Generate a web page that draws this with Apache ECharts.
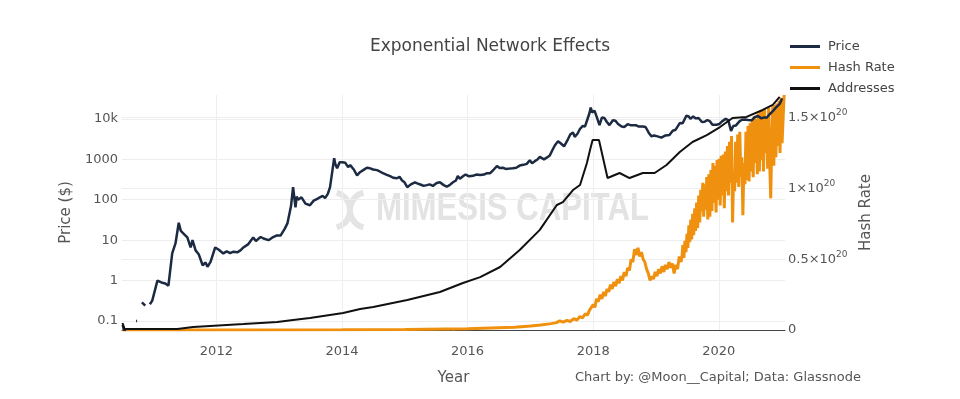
<!DOCTYPE html>
<html>
<head>
<meta charset="utf-8">
<script src="https://cdn.jsdelivr.net/npm/echarts@6/dist/echarts.min.js"></script>
<style>
  html, body { margin: 0; padding: 0; background: #fff; }
  #chart { width: 960px; height: 399px; }
</style>
</head>
<body>
<div id="chart"></div>
<script>
// values
const priceDates = ['2010-07-05','2010-07-12','2010-07-25','2010-08-20','2010-09-21','2010-09-27','2010-10-10','2010-10-25','2010-11-13','2010-11-25','2010-12-10','2010-12-24','2011-01-23','2011-02-15','2011-03-10','2011-03-28','2011-04-19','2011-05-08','2011-05-27','2011-06-08','2011-06-18','2011-06-28','2011-07-16','2011-07-25','2011-08-04','2011-08-15','2011-09-02','2011-09-20','2011-10-13','2011-10-30','2011-11-10','2011-11-28','2011-12-25','2012-01-15','2012-02-10','2012-03-01','2012-03-21','2012-04-10','2012-05-01','2012-05-20','2012-06-06','2012-07-05','2012-08-02','2012-08-18','2012-09-01','2012-09-15','2012-10-01','2012-10-30','2012-11-20','2012-12-15','2013-01-08','2013-02-01','2013-02-17','2013-03-10','2013-03-22','2013-04-05','2013-04-12','2013-04-20','2013-05-10','2013-06-02','2013-06-28','2013-07-20','2013-08-10','2013-08-25','2013-09-10','2013-09-24','2013-10-10','2013-10-23','2013-11-16','2013-11-22','2013-12-03','2013-12-18','2014-01-01','2014-01-20','2014-02-05','2014-02-17','2014-03-10','2014-03-29','2014-04-15','2014-05-04','2014-05-25','2014-06-13','2014-07-01','2014-07-23','2014-08-08','2014-08-26','2014-09-15','2014-10-07','2014-10-25','2014-11-17','2014-12-01','2014-12-16','2014-12-30','2015-01-15','2015-02-05','2015-03-01','2015-03-14','2015-04-05','2015-04-20','2015-05-09','2015-05-25','2015-06-13','2015-07-05','2015-07-24','2015-08-15','2015-09-02','2015-09-18','2015-10-08','2015-10-25','2015-11-05','2015-11-17','2015-12-05','2015-12-20','2016-01-10','2016-02-01','2016-02-20','2016-03-14','2016-04-05','2016-04-23','2016-05-10','2016-06-01','2016-06-20','2016-07-05','2016-07-24','2016-08-10','2016-09-02','2016-09-20','2016-10-10','2016-10-30','2016-11-20','2016-12-10','2016-12-28','2017-01-10','2017-01-26','2017-02-10','2017-02-24','2017-03-20','2017-04-05','2017-04-23','2017-05-10','2017-05-22','2017-06-10','2017-06-25','2017-07-15','2017-08-01','2017-08-20','2017-09-05','2017-09-15','2017-10-01','2017-10-16','2017-11-01','2017-11-14','2017-11-28','2017-12-10','2017-12-17','2017-12-25','2018-01-08','2018-01-20','2018-02-06','2018-02-20','2018-03-07','2018-03-20','2018-04-05','2018-04-25','2018-05-10','2018-05-25','2018-06-15','2018-06-30','2018-07-20','2018-08-05','2018-08-15','2018-09-05','2018-09-20','2018-10-16','2018-11-01','2018-11-20','2018-12-06','2018-12-20','2019-01-10','2019-02-01','2019-02-25','2019-03-20','2019-04-08','2019-04-25','2019-05-19','2019-06-05','2019-06-26','2019-07-10','2019-07-20','2019-08-05','2019-08-20','2019-09-05','2019-09-25','2019-10-10','2019-10-26','2019-11-10','2019-11-25','2019-12-18','2020-01-05','2020-01-20','2020-02-10','2020-02-25','2020-03-12','2020-03-25','2020-04-10','2020-04-30','2020-05-15','2020-06-01','2020-06-20','2020-07-10','2020-07-28','2020-08-15','2020-09-05','2020-09-20','2020-10-05','2020-10-22','2020-11-10','2020-11-25','2020-12-05','2020-12-20','2021-01-03'];
const priceValues = [0.08,0.06,0.06,null,0.1,0.1,null,0.29,0.24,null,0.26,0.32,1.0,0.9,0.85,0.75,4.7,8.3,27,17,18,14,11.7,13,6.6,10,5.6,4.5,2.4,2.8,2.2,2.9,6.6,5.8,4.7,5.3,4.8,5.2,5.0,5.6,6.6,8,11.7,9.5,10.8,12,11,10,11.5,13,13,19,26,70,205,65,120,100,115,80,73,95,105,115,125,110,140,205,1070,780,600,850,850,820,640,720,560,400,480,540,620,600,560,540,500,455,420,385,350,340,370,300,270,205,240,270,255,235,220,230,240,220,260,270,230,210,230,270,300,390,330,380,420,380,390,420,410,420,455,450,560,680,610,620,580,590,600,620,700,730,770,950,800,900,990,1150,1000,1100,1250,1750,2200,2800,2500,2100,2800,4100,4600,3600,4300,5700,6700,6500,9800,14000,19000,14500,16000,11500,7000,10800,10500,8500,7000,9300,9000,7500,6500,6300,7400,7000,6300,7000,6500,6500,6300,4500,3700,3900,3700,3450,3900,4000,5100,5400,7900,7800,12000,11500,10000,11500,10300,10500,8400,8500,9300,8800,7200,7200,7500,8700,10000,9300,5000,6700,6900,8700,9500,9700,9400,9200,11000,11800,10300,10900,10700,12900,15500,18500,19000,23500,32000];

// hash rate in units of 1e18 H/s
const hashDates = ['2010-07-04','2012-01-01','2014-01-01','2015-01-01','2016-01-01','2016-04-01','2016-07-01','2016-10-01','2017-01-01','2017-03-01','2017-05-01','2017-06-01','2017-06-20','2017-07-10','2017-08-01','2017-08-20','2017-09-10','2017-09-28','2017-10-15','2017-10-30','2017-11-15','2017-11-28','2017-12-10','2017-12-20','2018-01-01','2018-01-10','2018-01-20','2018-01-30','2018-02-10','2018-02-20','2018-03-02','2018-03-12','2018-03-22','2018-04-01','2018-04-11','2018-04-21','2018-05-01','2018-05-11','2018-05-21','2018-05-31','2018-06-10','2018-06-20','2018-06-30','2018-07-10','2018-07-20','2018-07-30','2018-08-09','2018-08-19','2018-08-29','2018-09-08','2018-09-18','2018-09-28','2018-10-08','2018-10-18','2018-10-28','2018-11-07','2018-11-17','2018-11-27','2018-12-07','2018-12-17','2018-12-27','2019-01-06','2019-01-16','2019-01-26','2019-02-05','2019-02-15','2019-02-25','2019-03-07','2019-03-17','2019-03-27','2019-04-06','2019-04-16','2019-04-26','2019-05-06','2019-05-16','2019-05-26','2019-06-01','2019-06-06','2019-06-12','2019-06-18','2019-06-24','2019-06-30','2019-07-05','2019-07-11','2019-07-16','2019-07-22','2019-07-27','2019-08-02','2019-08-08','2019-08-14','2019-08-19','2019-08-25','2019-08-31','2019-09-06','2019-09-12','2019-09-18','2019-09-24','2019-09-30','2019-10-05','2019-10-11','2019-10-17','2019-10-23','2019-10-29','2019-11-04','2019-11-10','2019-11-16','2019-11-22','2019-11-28','2019-12-04','2019-12-10','2019-12-16','2019-12-22','2019-12-28','2020-01-03','2020-01-09','2020-01-15','2020-01-21','2020-01-27','2020-02-02','2020-02-08','2020-02-14','2020-02-20','2020-02-26','2020-03-03','2020-03-09','2020-03-15','2020-03-21','2020-03-27','2020-04-02','2020-04-08','2020-04-14','2020-04-20','2020-04-26','2020-05-02','2020-05-08','2020-05-14','2020-05-20','2020-05-26','2020-06-01','2020-06-07','2020-06-13','2020-06-19','2020-06-25','2020-07-01','2020-07-07','2020-07-13','2020-07-19','2020-07-25','2020-07-31','2020-08-06','2020-08-12','2020-08-18','2020-08-24','2020-08-30','2020-09-05','2020-09-11','2020-09-17','2020-09-23','2020-09-29','2020-10-05','2020-10-11','2020-10-17','2020-10-23','2020-10-29','2020-11-04','2020-11-10','2020-11-16','2020-11-22','2020-11-28','2020-12-04','2020-12-10','2020-12-16','2020-12-22','2020-12-28','2021-01-03','2021-01-09','2021-01-15'];
const hashValues = [0,0.02,0.1,0.3,0.8,1.2,1.6,2.0,2.8,3.6,4.5,5.2,6.5,5.5,6.8,6.0,8.0,7.0,9.5,8.5,11.5,10.5,14,13,18,16,22,20,25,22,27,24,29,27,32,29,34,31,36,33,38,35,41,38,44,42,50,48,57,53,58,52,55,50,48,43,40,35,38,36,41,38,43,40,45,41,46,43,48,44,47,40,46,43,52,48,52,60,51,63,55,68,58,74,62,78,64,82,67,86,70,90,72,95,76,99,84,104,80,103,85,108,78,110,80,113,84,118,90,116,83,120,92,121,88,123,95,124,86,126,98,130,95,133,104,137,76,110,98,133,104,138,101,140,108,122,81,118,103,140,106,144,105,146,112,148,108,151,118,149,110,153,112,154,120,155,112,156,125,150,114,157,118,93,135,158,116,159,122,160,130,162,125,164,132,150,166];

// active addresses, thousands
const addrDates = ['2010-07-04','2010-07-16','2011-05-19','2011-08-19','2011-11-25','2012-06-06','2012-12-20','2013-03-22','2013-06-28','2014-01-07','2014-04-16','2014-07-01','2015-01-15','2015-07-24','2015-12-05','2016-03-14','2016-07-08','2016-10-30','2017-02-24','2017-06-03','2017-07-08','2017-09-05','2017-10-16','2017-11-25','2017-12-13','2017-12-28','2018-02-03','2018-03-25','2018-06-03','2018-07-31','2018-10-16','2018-12-24','2019-03-03','2019-05-19','2019-08-01','2019-10-23','2020-01-08','2020-03-21','2020-06-10','2020-09-12','2020-11-10','2020-12-20'];
const addrValues = [40,6,6,17,23,34,46,57,69,98,121,132,172,218,270,304,362,460,575,718,735,804,833,959,1034,1092,1092,873,902,873,902,902,948,1023,1080,1120,1166,1218,1224,1264,1293,1339];

const yearTicks = [2012, 2014, 2016, 2018, 2020];

const toTs = s => { const p = s.split('-').map(Number); return new Date(p[0], p[1] - 1, p[2]).getTime(); };
const zip = (a, b) => a.map((d, i) => [toTs(d), b[i]]);
const yearTs = yearTicks.map(y => new Date(y, 0, 1).getTime());

const FONT = 'DejaVu Sans';
const chart = echarts.init(document.getElementById('chart'));
chart.setOption({
  animation: false,
  textStyle: { fontFamily: FONT },
  title: {
    text: 'Exponential Network Effects',
    left: 485, top: 33, textAlign: 'center',
    textStyle: { fontFamily: FONT, fontSize: 17, fontWeight: 'normal', color: '#444' }
  },
  legend: {
    orient: 'vertical', left: 790, top: 40, padding: 0,
    icon: 'rect', itemWidth: 30, itemHeight: 3, itemGap: 8,
    textStyle: { fontFamily: FONT, fontSize: 13, color: '#444', padding: [0, 0, 0, 3] },
    data: ['Price', 'Hash Rate', 'Addresses']
  },
  grid: { left: 122, right: 175, top: 95, bottom: 69 },
  graphic: [
    { type: 'arc', shape: { cx: 332, cy: 210, r: 18, startAngle: -Math.PI / 2.4, endAngle: Math.PI / 2.4 },
      style: { stroke: '#e4e4e4', lineWidth: 6, fill: null }, z: 0 },
    { type: 'arc', shape: { cx: 368, cy: 210, r: 18, startAngle: Math.PI - Math.PI / 2.4, endAngle: Math.PI + Math.PI / 2.4 },
      style: { stroke: '#e4e4e4', lineWidth: 6, fill: null }, z: 0 },
    { type: 'text', left: 376, top: 191, scaleX: 0.82, z: 0,
      style: { text: 'MIMESIS CAPITAL', fill: '#e3e3e3', font: 'bold 38px "Liberation Sans"' } },
    { type: 'text', right: 99, top: 371,
      style: { text: 'Chart by: @Moon__Capital; Data: Glassnode', fill: '#555', font: '13px "DejaVu Sans"' } }
  ],
  xAxis: {
    type: 'value',
    min: toTs('2010-07-01'), max: toTs('2021-01-20'),
    name: 'Year', nameLocation: 'middle', nameGap: 41,
    nameTextStyle: { fontFamily: FONT, fontSize: 15, color: '#555' },
    axisLine: { show: true, lineStyle: { color: '#444', width: 1 } },
    axisTick: { show: false, customValues: yearTs },
    axisLabel: {
      customValues: yearTs, margin: 15,
      fontFamily: FONT, fontSize: 13, color: '#555',
      formatter: v => String(new Date(v).getFullYear())
    },
    splitLine: { show: true, lineStyle: { color: '#eee', width: 1 } }
  },
  yAxis: [
    {
      type: 'log', logBase: 10, min: 0.06, max: 39000, position: 'left',
      name: 'Price ($)', nameLocation: 'middle', nameGap: 39, nameRotate: 90,
      nameTextStyle: { fontFamily: FONT, fontSize: 15, color: '#555' },
      axisLine: { show: false }, axisTick: { show: false },
      axisLabel: {
        margin: 4, fontFamily: FONT, fontSize: 13, color: '#555',
        showMinLabel: false, showMaxLabel: false,
        formatter: v => { const n = Number(v.toPrecision(3)); return n >= 10000 ? (n / 1000) + 'k' : String(n); }
      },
      splitLine: { show: true, showMinLine: false, showMaxLine: false, lineStyle: { color: '#eee' } }
    },
    {
      type: 'value', min: 0, max: 166, interval: 50, position: 'right',
      name: 'Hash Rate', nameLocation: 'middle', nameGap: 68, nameRotate: 90,
      nameTextStyle: { fontFamily: FONT, fontSize: 15, color: '#555' },
      axisLine: { show: false }, axisTick: { show: false },
      axisLabel: {
        margin: 3, showMaxLabel: false,
        formatter: v => v === 0 ? '{b|0}' : '{b|' + (v / 100) + '×10}{s|20}',
        rich: {
          b: { fontFamily: FONT, fontSize: 13, color: '#555', lineHeight: 18 },
          s: { fontFamily: FONT, fontSize: 9, color: '#555', verticalAlign: 'top', lineHeight: 9 }
        }
      },
      splitLine: { show: true, showMinLine: false, showMaxLine: false, lineStyle: { color: '#eee' } }
    },
    { type: 'value', min: 0, max: 1350, show: false }
  ],
  series: [
    {
      name: 'Price', type: 'line', yAxisIndex: 0, showSymbol: false,
      data: zip(priceDates, priceValues),
      lineStyle: { color: '#1c2a42', width: 2.5 }, itemStyle: { color: '#1c2a42' }, z: 3
    },
    {
      name: 'Hash Rate', type: 'line', yAxisIndex: 1, showSymbol: false,
      data: zip(hashDates, hashValues),
      lineStyle: { color: '#f0900f', width: 3 }, itemStyle: { color: '#f0900f' }, z: 2
    },
    {
      name: 'Addresses', type: 'line', yAxisIndex: 2, showSymbol: false,
      data: zip(addrDates, addrValues),
      lineStyle: { color: '#111', width: 2 }, itemStyle: { color: '#111' }, z: 4
    }
  ]
});
</script>
</body>
</html>
